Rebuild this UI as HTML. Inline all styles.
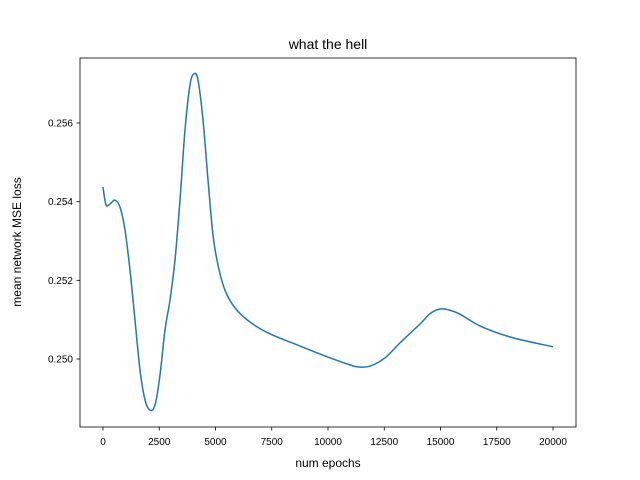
<!DOCTYPE html>
<html><head><meta charset="utf-8"><style>
body{margin:0;background:#fff;}
svg{display:block;font-family:"Liberation Sans","DejaVu Sans",sans-serif;}
</style></head><body>
<svg id="chart" width="640" height="480">
<rect x="0" y="0" width="640" height="480" fill="#fff"/>
<text x="328" y="49" font-size="14" text-anchor="middle">what the hell</text>
<g id="ticks"></g>
<path id="line" fill="none" stroke="#1f77b4" stroke-width="1.5"/>
<rect x="80" y="58" width="496" height="369" fill="none" stroke="#000" stroke-width="0.8"/>
<text x="328" y="467" font-size="12" text-anchor="middle">num epochs</text>
<text x="21" y="242" font-size="12" text-anchor="middle" transform="rotate(-90 21 242)">mean network MSE loss</text>
</svg>
<script>
const epochs=[0,133,311,533,756,978,1200,1422,1644,1867,2089,2311,2533,2756,2978,3200,3422,3644,3867,4044,4222,4444,4667,4889,5111,5422,5867,6533,7422,8756,10089,10978,11333,11867,12533,13200,14089,14533,14978,15422,15867,16756,18089,20000];
const losses=[0.25437,0.25392,0.25394,0.25404,0.25386,0.25328,0.25226,0.25099,0.24972,0.24896,0.24870,0.24883,0.24959,0.25074,0.25150,0.25252,0.25404,0.25582,0.25697,0.25725,0.25709,0.25608,0.25455,0.25315,0.25239,0.25175,0.25130,0.25094,0.25064,0.25033,0.25003,0.24985,0.24980,0.24982,0.25003,0.25041,0.25089,0.25115,0.25127,0.25124,0.25114,0.25084,0.25056,0.25031];
const xTicks=[0,2500,5000,7500,10000,12500,15000,17500,20000];
const yTicks=[0.250,0.252,0.254,0.256];
const xs=v=>103+v*0.0225;
const ys=v=>359-(v-0.250)*39333;
const NS="http://www.w3.org/2000/svg";
const g=document.getElementById('ticks');
function mk(t,a){const e=document.createElementNS(NS,t);for(const k in a)e.setAttribute(k,a[k]);g.appendChild(e);return e;}
xTicks.forEach(t=>{const x=xs(t);
const l=mk('line',{x1:x,x2:x,y1:427,y2:430.5,stroke:'#000','stroke-width':0.8});


const tx=mk('text',{x:x,y:445,'font-size':10,'text-anchor':'middle'});tx.textContent=t;

});
yTicks.forEach(t=>{const y=ys(t);
const l=mk('line',{x1:76.5,x2:80,y1:y,y2:y,stroke:'#000','stroke-width':0.8});


const tx=mk('text',{x:73,y:y+3.5,'font-size':10,'text-anchor':'end'});tx.textContent=t.toFixed(3);

});
const P=epochs.map((e,i)=>[xs(e),ys(losses[i])]);
let d='M'+P[0][0]+','+P[0][1];
for(let i=0;i<P.length-1;i++){const p0=P[Math.max(0,i-1)],p1=P[i],p2=P[i+1],p3=P[Math.min(P.length-1,i+2)];
const c1=[p1[0]+(p2[0]-p0[0])/6,p1[1]+(p2[1]-p0[1])/6],c2=[p2[0]-(p3[0]-p1[0])/6,p2[1]-(p3[1]-p1[1])/6];
d+=`C${c1[0]},${c1[1]} ${c2[0]},${c2[1]} ${p2[0]},${p2[1]}`;}
document.getElementById('line').setAttribute('d',d);
</script>
</body></html>
